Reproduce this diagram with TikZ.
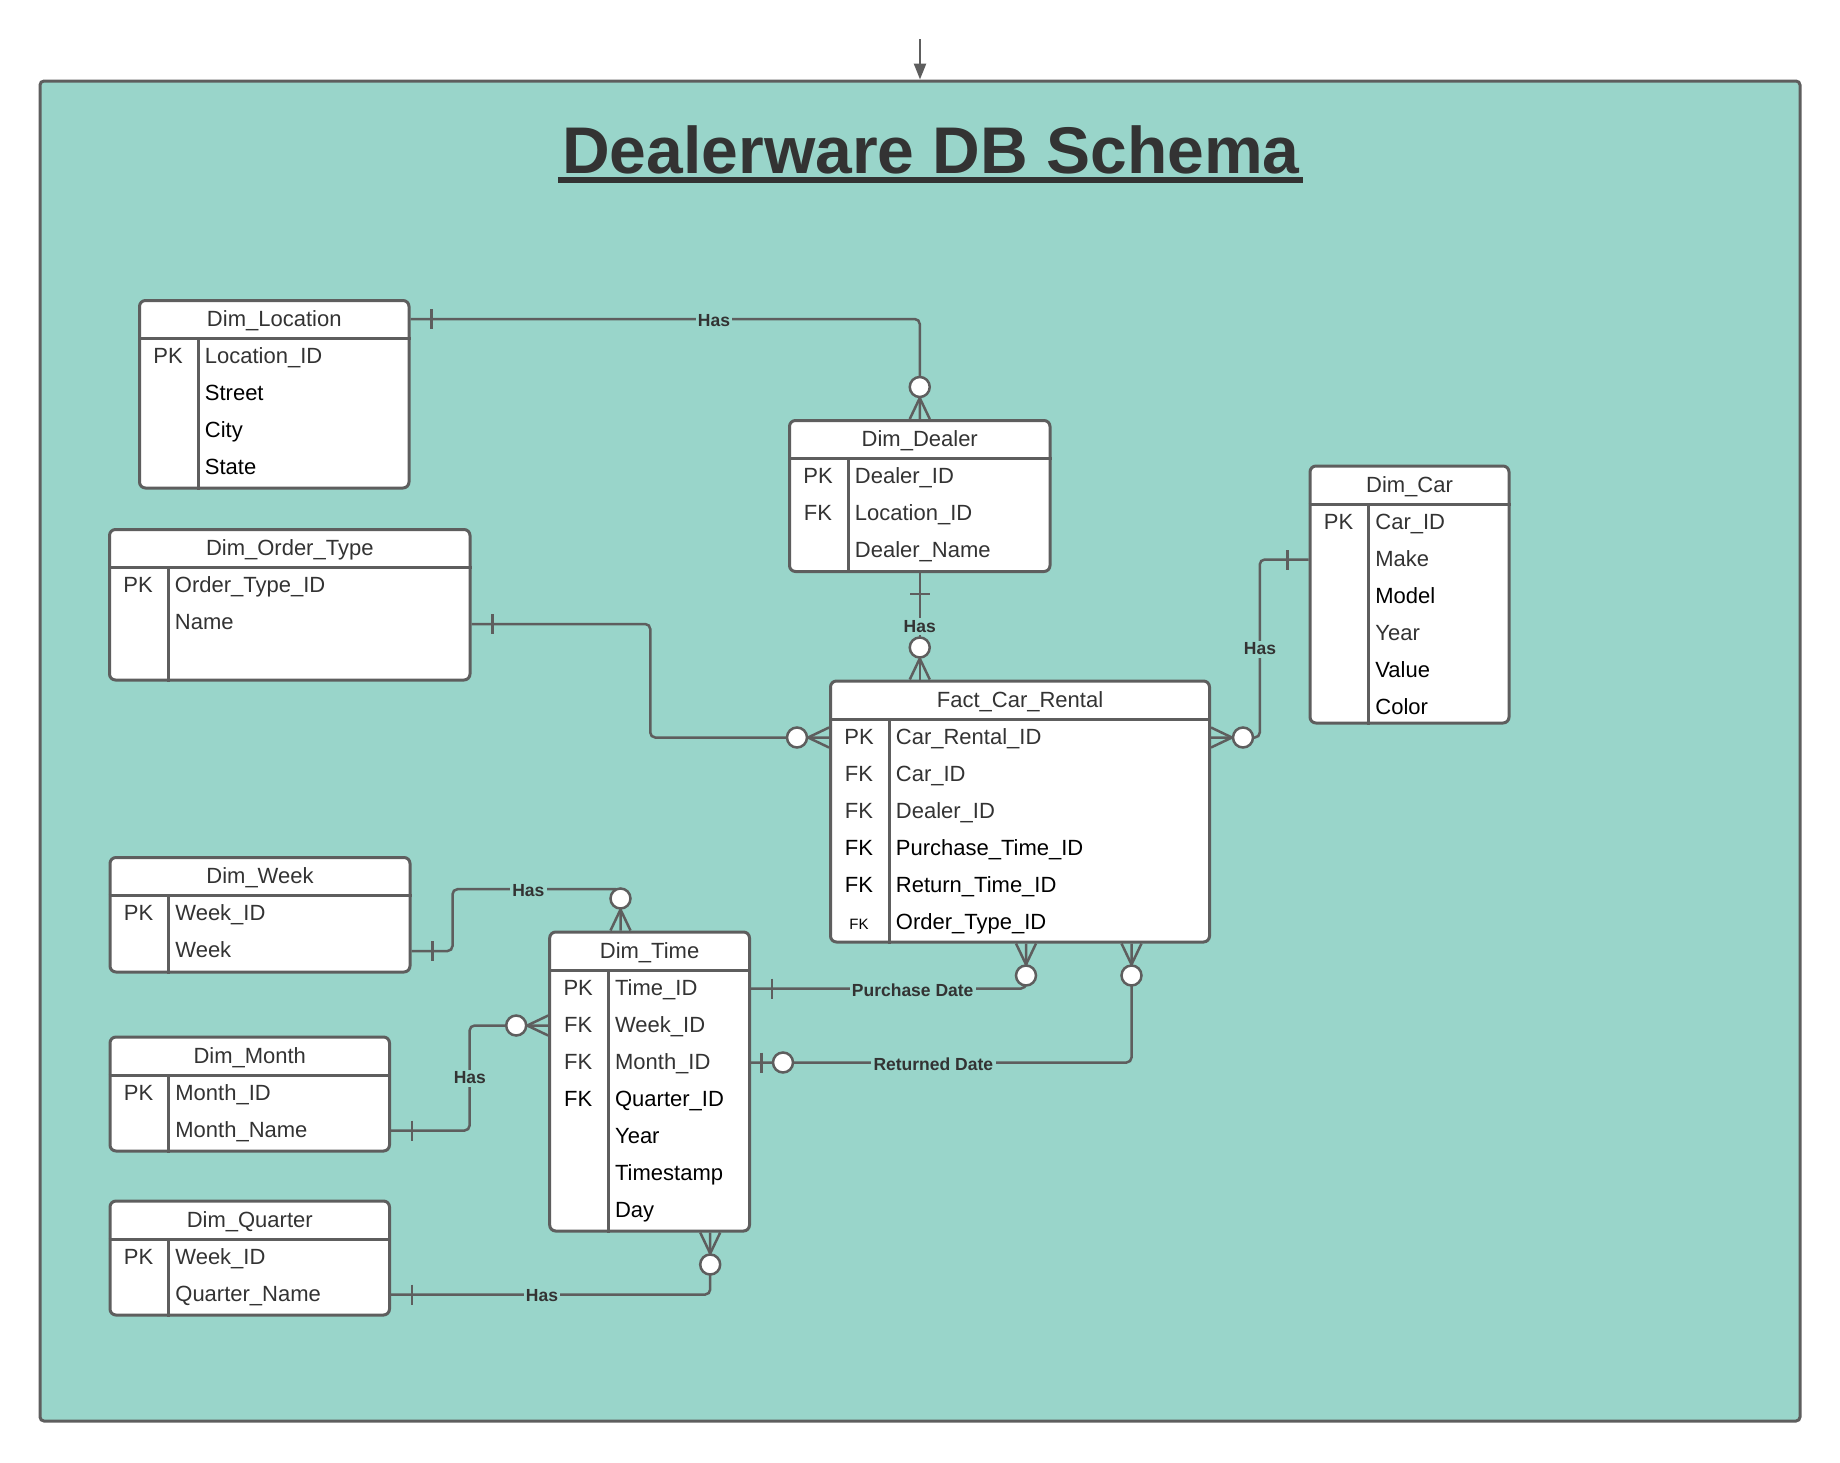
\documentclass[tikz,border=0pt]{standalone}
\usepackage{fontspec}
\setmainfont{Liberation Sans}
\usetikzlibrary{fit,calc,arrows.meta}
\definecolor{bg}{HTML}{99D5CA}
\definecolor{lc}{HTML}{5E5E5E}
\definecolor{tg}{HTML}{333333}
\definecolor{tb}{HTML}{000000}
\newcommand\smallfk{{\fontsize{7.5}{9}\selectfont FK}}
\tikzset{
 frm/.style={draw=lc, line width=1.5pt, fill=bg, rounded corners=2pt, inner sep=0pt},
 tbl/.style={draw=lc, line width=1.5pt, fill=white, rounded corners=3pt, inner sep=0pt},
 tline/.style={draw=lc, line width=1.5pt},
 conn/.style={draw=lc, line width=1.25pt},
 route/.style={conn, rounded corners=2.5pt},
 txt/.style={inner sep=0pt, font=\fontsize{11}{13}\selectfont},
 hdr/.style={txt, text=tg, anchor=base},
 keytxt/.style={txt, anchor=base},
 attr/.style={txt, anchor=base west},
 lbl/.style={fill=bg, inner sep=1.2pt, text=tg, font=\bfseries\fontsize{8.75}{10}\selectfont},
 ttl/.style={inner sep=0pt, anchor=base, text=tg, font=\bfseries\fontsize{33}{40}\selectfont},
}
\newcommand\mktable[4]{%
 \node[tbl, fit={#2}] (#1) {};
 \draw[tline] ($(#1.north west)+(0,39.5)$) -- ($(#1.north east)+(0,39.5)$);
 \draw[tline] ($(#1.north west)+(60,39.5)$) -- ($(#1.south west)+(60,0)$);
 \node[hdr] (#1-h) at ($(#1.north)+(0,27.5)$) {#3};
 \foreach \ky/\attxt/\cl [count=\i] in {#4} {
   \node[keytxt, text=\cl] (#1-k\i) at ($(#1.north west)+({30},{56+37*(\i-1)+8.5})$) {\ky};
   \node[attr, text=\cl] (#1-a\i) at ($(#1.north west)+({66.5},{56+37*(\i-1)+8.5})$) {\attxt};
 }}
\newcommand\mkone[3]{\draw[conn] ($(#1)+({21*(#2)+10*(#3)},{21*(#3)-10*(#2)})$) -- ($(#1)+({21*(#2)-10*(#3)},{21*(#3)+10*(#2)})$);}
\newcommand\mkmany[3]{\draw[conn] ($(#1)+({10*(#3)},{-10*(#2)})$) -- ($(#1)+({21*(#2)},{21*(#3)})$) -- ($(#1)+({-10*(#3)},{10*(#2)})$);
 \draw[conn,fill=white] ($(#1)+({32*(#2)},{32*(#3)})$) circle[radius=5pt];}
\newcommand\mkzone[3]{\draw[conn] ($(#1)+({10.5*(#2)+10*(#3)},{10.5*(#3)-10*(#2)})$) -- ($(#1)+({10.5*(#2)-10*(#3)},{10.5*(#3)+10*(#2)})$);
 \draw[conn,fill=white] ($(#1)+({32*(#2)},{32*(#3)})$) circle[radius=5pt];}
\begin{document}
\begin{tikzpicture}[x=0.5pt,y=-0.5pt]
\useasboundingbox (0,0) rectangle (1840,1462);
\node[frm, fit={(40,81) (1800,1421)}] (frame) {};
\coordinate (src) at (920,39);
\draw[conn, -{Triangle[width=6pt,length=8pt]}] (src) -- (frame.north);
\node[ttl] (title) at (931,173) {Dealerware DB Schema};
\draw[line width=3pt, tg] ($(title.base west)+(-4,7)$) -- ($(title.base east)+(3,7)$);

\mktable{loc}{(139.5,300.5) (409,488)}{Dim\_Location}{PK/Location\_ID/tg,/Street/tb,/City/tb,/State/tb}
\mktable{dlr}{(789.5,420.5) (1050,571.5)}{Dim\_Dealer}{PK/Dealer\_ID/tg,FK/Location\_ID/tg,/Dealer\_Name/tg}
\mktable{car}{(1310,466) (1509,723)}{Dim\_Car}{PK/Car\_ID/tg,/Make/tg,/Model/tb,/Year/tg,/Value/tb,/Color/tb}
\mktable{ord}{(109.5,529.5) (470,680)}{Dim\_Order\_Type}{PK/Order\_Type\_ID/tg,/Name/tg}
\mktable{fact}{(830.5,681) (1209.5,942)}{Fact\_Car\_Rental}{PK/Car\_Rental\_ID/tg,FK/Car\_ID/tg,FK/Dealer\_ID/tg,FK/Purchase\_Time\_ID/tb,FK/Return\_Time\_ID/tb,\smallfk/Order\_Type\_ID/tb}
\mktable{week}{(110,857.5) (410,972)}{Dim\_Week}{PK/Week\_ID/tg,/Week/tg}
\mktable{time}{(549.7,932) (749.5,1231)}{Dim\_Time}{PK/Time\_ID/tg,FK/Week\_ID/tg,FK/Month\_ID/tg,FK/Quarter\_ID/tb,/Year/tb,/Timestamp/tb,/Day/tb}
\mktable{month}{(110,1037) (389.5,1151)}{Dim\_Month}{PK/Month\_ID/tg,/Month\_Name/tg}
\mktable{quarter}{(110,1201) (389.5,1315)}{Dim\_Quarter}{PK/Week\_ID/tg,/Quarter\_Name/tg}

\coordinate (c1a) at ($(loc.north east)+(0,20)$);
\coordinate (c1b) at (dlr.north);
\coordinate (c2a) at (dlr.south);
\coordinate (c2b) at (dlr.south |- fact.north);
\coordinate (c3a) at ($(ord.north east)+(0,96)$);
\coordinate (c3b) at ($(fact.north west)+(0,58)$);
\coordinate (c4a) at ($(car.north west)+(0,95)$);
\coordinate (c4b) at ($(fact.north east)+(0,58)$);
\coordinate (c5a) at ($(week.north east)+(0,95)$);
\coordinate (c5b) at ($(time.north west)+(72.3,0)$);
\coordinate (k5) at ($(c5b)+(0,-41.3)$);
\coordinate (c6a) at ($(month.north east)+(0,95)$);
\coordinate (c6b) at ($(time.north west)+(0,95)$);
\coordinate (c7a) at ($(quarter.north east)+(0,95)$);
\coordinate (c7b) at ($(time.south west)+(162,0)$);
\coordinate (c8a) at ($(time.north east)+(0,58)$);
\coordinate (c8b) at ($(fact.south west)+(197,0)$);
\coordinate (c9a) at ($(time.north east)+(0,132)$);
\coordinate (c9b) at ($(fact.south west)+(302.5,0)$);

\draw[route] (c1a) -| (c1b);
\draw[route] (c2a) -- (c2b);
\draw[route] (c3a) -| ($(c3a)!0.5!(c3b)$) |- (c3b);
\draw[route] (c4a) -| ($(c4a)!0.5!(c4b)$) |- (c4b);
\draw[route] (c5a) -- ++(41,0) |- (k5) -- (c5b);
\draw[route] (c6a) -| ($(c6a)!0.5!(c6b)$) |- (c6b);
\draw[route] (c7a) -| (c7b);
\draw[route] (c8a) -| (c8b);
\draw[route] (c9a) -| (c9b);

\mkone{c1a}{1}{0} \mkmany{c1b}{0}{-1}
\mkone{c2a}{0}{1} \mkmany{c2b}{0}{-1}
\mkone{c3a}{1}{0} \mkmany{c3b}{-1}{0}
\mkone{c4a}{-1}{0} \mkmany{c4b}{1}{0}
\mkone{c5a}{1}{0} \mkmany{c5b}{0}{-1}
\mkone{c6a}{1}{0} \mkmany{c6b}{-1}{0}
\mkone{c7a}{1}{0} \mkmany{c7b}{0}{1}
\mkone{c8a}{1}{0} \mkmany{c8b}{0}{1}
\mkzone{c9a}{1}{0} \mkmany{c9b}{0}{1}

\node[lbl] (l1) at (714,320.5) {Has};
\node[lbl] (l2) at ($(c2a)!0.5!(c2b)$) {Has};
\node[lbl] (l4) at (1260,649) {Has};
\node[lbl] (l5) at (528.4,890.7) {Has};
\node[lbl] (l6) at (469.8,1078) {Has};
\node[lbl] (l7) at (542,1296) {Has};
\node[lbl] (l8) at (912.7,990) {Purchase Date};
\node[lbl] (l9) at (933.3,1064) {Returned Date};
\end{tikzpicture}
\end{document}
